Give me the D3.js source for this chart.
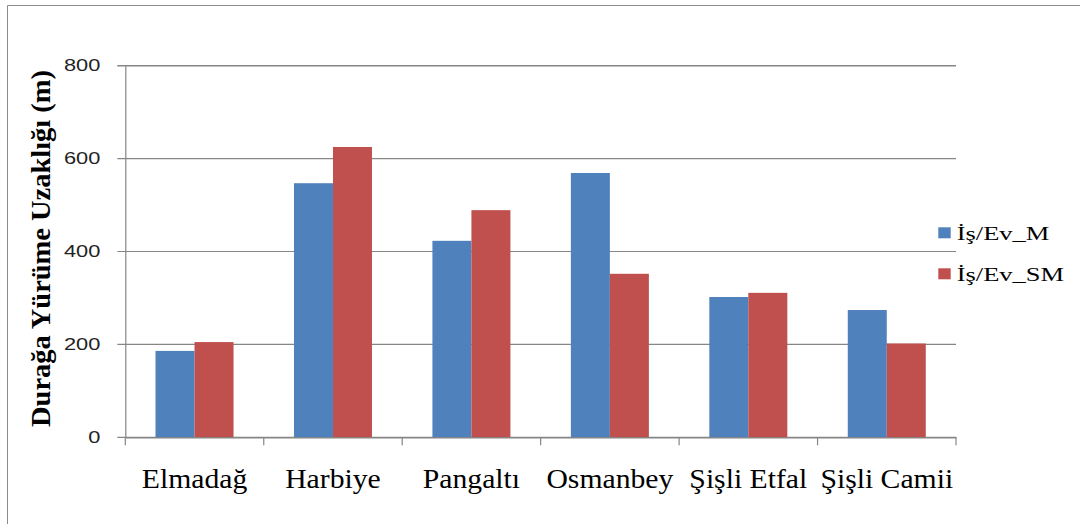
<!DOCTYPE html>
<html>
<head>
<meta charset="utf-8">
<script src="https://cdn.jsdelivr.net/npm/d3@7"></script>
<style>
    body { margin: 0; background: #fff; }
    svg { display: block; }
</style>
</head>
<body>
<svg></svg>
<script>
const categories = ['Elmadağ', 'Harbiye', 'Pangaltı', 'Osmanbey', 'Şişli Etfal', 'Şişli Camii'];
const seriesNames = ['İş/Ev_M', 'İş/Ev_SM'];
const valuesM = [186, 547, 423, 569, 302, 274];
const valuesSM = [205, 625, 489, 352, 311, 202];
const yTicks = [0, 200, 400, 600, 800];
const colors = ['#4F81BD', '#C0504D'];

const width = 1086, height = 524;
const plot = { left: 125.3, right: 956, top: 65.7, bottom: 437.3 };
const serif = '"Liberation Serif", "Times New Roman", "DejaVu Serif", serif';

const svg = d3.select('svg')
    .attr('width', width)
    .attr('height', height);

// outer chart frame (only top and left visible)
svg.append('path')
    .attr('d', 'M7.5,600 L7.5,5.5 L1080,5.5')
    .attr('fill', 'none')
    .attr('stroke', '#8c8c8c')
    .attr('stroke-width', 1);

const x0 = d3.scaleBand()
    .domain(categories)
    .range([plot.left, plot.right])
    .padding(0);

const gap = x0.bandwidth() * 0.4366 / 2;
const x1 = d3.scaleBand()
    .domain(seriesNames)
    .range([gap, x0.bandwidth() - gap])
    .padding(0);

const y = d3.scaleLinear()
    .domain([0, 800])
    .range([plot.bottom, plot.top]);

// gridlines
svg.append('g')
    .attr('class', 'grid')
    .selectAll('line')
    .data(yTicks)
    .enter()
    .append('line')
    .attr('x1', plot.left - 8)
    .attr('x2', plot.right)
    .attr('y1', (d) => y(d))
    .attr('y2', (d) => y(d))
    .attr('stroke', '#868686')
    .attr('stroke-width', (d) => d === 800 ? 1.6 : 1.2);

// bars
const table = categories.map((c, i) => ({ cat: c, vals: [valuesM[i], valuesSM[i]] }));
svg.append('g')
    .attr('class', 'bars')
    .selectAll('g')
    .data(table)
    .enter()
    .append('g')
    .attr('transform', (d) => `translate(${x0(d.cat)},0)`)
    .selectAll('rect')
    .data((d) => d.vals.map((v, j) => ({ name: seriesNames[j], v: v, j: j })))
    .enter()
    .append('rect')
    .attr('x', (d) => x1(d.name))
    .attr('width', x1.bandwidth())
    .attr('y', (d) => y(d.v))
    .attr('height', (d) => y(0) - y(d.v))
    .attr('fill', (d) => colors[d.j]);

// y axis
const yAxis = svg.append('g')
    .attr('transform', `translate(${plot.left},0)`)
    .call(d3.axisLeft(y).tickValues(yTicks).tickSize(0).tickPadding(25));
yAxis.select('.domain')
    .attr('stroke', '#868686')
    .attr('stroke-width', 1.2);
yAxis.selectAll('text')
    .style('font-family', '"Liberation Sans", Arial, sans-serif')
    .style('font-size', '16.5px')
    .attr('fill', '#222')
    .each(function() {
        const len = this.getComputedTextLength();
        d3.select(this).attr('textLength', len * 1.32).attr('lengthAdjust', 'spacingAndGlyphs');
    });

// x axis: ticks at category boundaries, labels centered
const bounds = d3.range(categories.length + 1).map((i) => plot.left + i * x0.step());
svg.append('g')
    .attr('class', 'x-ticks')
    .selectAll('line')
    .data(bounds)
    .enter()
    .append('line')
    .attr('x1', (d) => d)
    .attr('x2', (d) => d)
    .attr('y1', plot.bottom)
    .attr('y2', plot.bottom + 8)
    .attr('stroke', '#868686')
    .attr('stroke-width', 1.2);

const xAxis = svg.append('g')
    .attr('transform', `translate(0,${plot.bottom})`)
    .call(d3.axisBottom(x0).tickSize(0).tickPadding(31));
xAxis.select('.domain')
    .attr('stroke', '#868686')
    .attr('stroke-width', 1.2);
xAxis.selectAll('text')
    .style('font-family', serif)
    .style('font-size', '28px')
    .attr('fill', '#000')
    .each(function() {
        const len = this.getComputedTextLength();
        d3.select(this).attr('textLength', len * 1.06).attr('lengthAdjust', 'spacingAndGlyphs');
    });

// y axis title
svg.append('text')
    .attr('transform', 'translate(50,248.5) rotate(-90)')
    .attr('text-anchor', 'middle')
    .style('font-family', serif)
    .style('font-weight', 'bold')
    .style('font-size', '28px')
    .attr('fill', '#000')
    .attr('textLength', 357)
    .attr('lengthAdjust', 'spacingAndGlyphs')
    .text('Durağa Yürüme Uzaklığı (m)');

// legend
const legend = svg.append('g')
    .attr('class', 'legend')
    .selectAll('g')
    .data(seriesNames)
    .enter()
    .append('g')
    .attr('transform', (d, i) => `translate(938.3,${227.3 + i * 41})`);
legend.append('rect')
    .attr('width', 12.4)
    .attr('height', 11)
    .attr('fill', (d, i) => colors[i]);
legend.append('text')
    .attr('x', 18.4)
    .attr('y', 12.7)
    .style('font-family', serif)
    .style('font-size', '18px')
    .attr('fill', '#000')
    .text((d) => d)
    .each(function() {
        const len = this.getComputedTextLength();
        d3.select(this).attr('textLength', len * 1.47).attr('lengthAdjust', 'spacingAndGlyphs');
    });
</script>
</body>
</html>
